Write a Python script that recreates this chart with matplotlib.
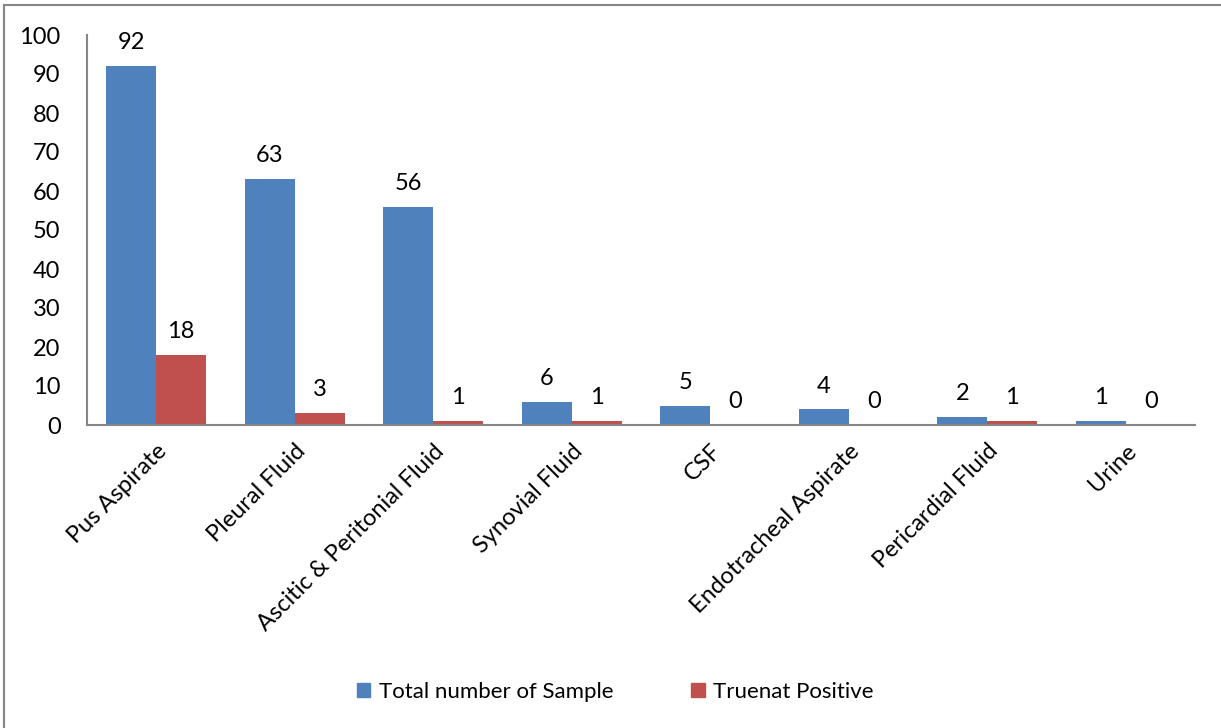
import matplotlib
matplotlib.use("Agg")
import matplotlib.pyplot as plt
import matplotlib.patches as mpatches
import numpy as np

plt.rcParams["font.family"] = ["Lato", "DejaVu Sans"]

categories = ["Pus Aspirate", "Pleural Fluid", "Ascitic & Peritonial Fluid",
              "Synovial Fluid", "CSF", "Endotracheal Aspirate",
              "Pericardial Fluid", "Urine"]
total_samples = [92, 63, 56, 6, 5, 4, 2, 1]
truenat_positive = [18, 3, 1, 1, 0, 0, 1, 0]

BLUE = "#4F81BD"
RED = "#C0504D"

fig = plt.figure(figsize=(12.21, 7.28), dpi=100)
ax = fig.add_axes([87 / 1221, 1 - 425 / 728, (1195 - 87) / 1221, (425 - 35) / 728])

x = np.arange(len(categories))
w = 0.36
b1 = ax.bar(x - w / 2, total_samples, w, color=BLUE, label="Total number of Sample")
b2 = ax.bar(x + w / 2, truenat_positive, w, color=RED, label="Truenat Positive")

for bars, vals in ((b1, total_samples), (b2, truenat_positive)):
    for r, v in zip(bars, vals):
        ax.text(r.get_x() + r.get_width() / 2, v + 3.3, str(v),
                ha="center", va="bottom", fontsize=17)

ax.set_xlim(-0.5, len(categories) - 0.5)
ax.set_ylim(0, 100)
ax.set_yticks(range(0, 101, 10))
ax.tick_params(axis="y", length=0, pad=19, labelsize=17)
ax.tick_params(axis="x", length=0, pad=11, labelsize=17)
ax.set_xticks(x)
ax.set_xticklabels(categories, rotation=45, ha="right", rotation_mode="anchor")

for s in ("top", "right"):
    ax.spines[s].set_visible(False)
for s in ("left", "bottom"):
    ax.spines[s].set_color("#868686")
    ax.spines[s].set_linewidth(1.5)

handles = [mpatches.Patch(color=BLUE, label="Total number of Sample"),
           mpatches.Patch(color=RED, label="Truenat Positive")]
fig.legend(handles=handles, loc="center", bbox_to_anchor=(0.504, 1 - 692 / 728),
           ncol=2, frameon=False, fontsize=16, handlelength=0.6, handleheight=0.6,
           handletextpad=0.4, columnspacing=3.5)

# outer chart border
fig.patches.append(mpatches.Rectangle((4 / 1221, -0.01), 1.2, 1 - 5 / 728 + 0.01,
                                      transform=fig.transFigure, fill=False,
                                      edgecolor="#868686", linewidth=1.5))

fig.savefig("out.png", dpi=100)
